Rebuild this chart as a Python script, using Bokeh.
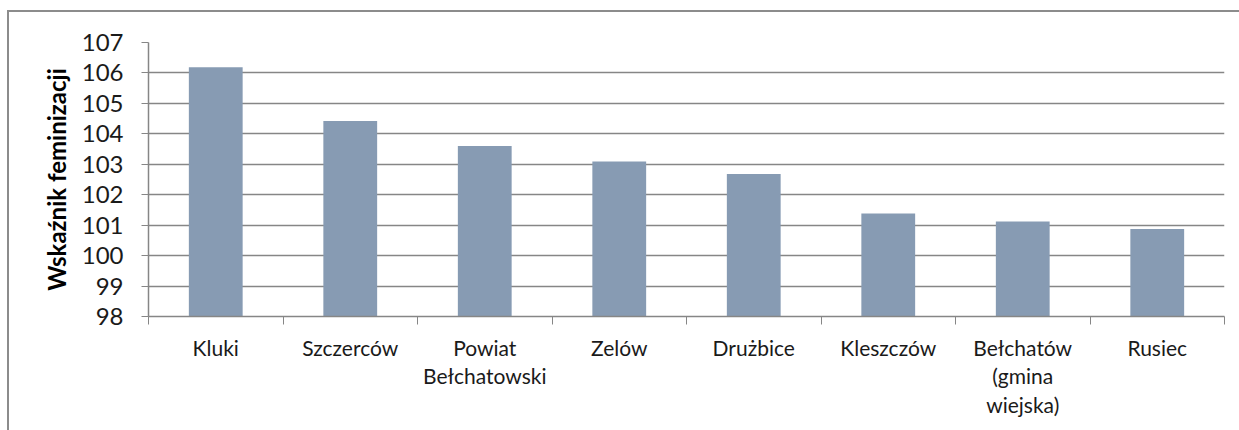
from bokeh.plotting import figure
from bokeh.models import Range1d, FixedTicker, ColumnDataSource
from bokeh.embed import file_html
from bokeh.resources import INLINE

categories = ["Kluki", "Szczerców", "Powiat\nBełchatowski", "Zelów", "Drużbice",
              "Kleszczów", "Bełchatów\n(gmina\nwiejska)", "Rusiec"]
values = [106.19, 104.42, 103.60, 103.09, 102.68, 101.38, 101.12, 100.87]
y_ticks = [98, 99, 100, 101, 102, 103, 104, 105, 106, 107]
y_label = "Wskaźnik feminizacji"

positions = [i + 0.5 for i in range(len(categories))]
boundaries = list(range(len(categories) + 1))

src = ColumnDataSource(dict(x=positions, top=values))

GRAY = "#868686"
FONT = "Lato"

p = figure(width=1239, height=430, output_backend="svg", toolbar_location=None,
           x_range=Range1d(0, len(categories)), y_range=Range1d(y_ticks[0], y_ticks[-1]),
           min_border_left=148, min_border_right=15, min_border_top=42, min_border_bottom=114)
p.outline_line_color = None
p.border_fill_color = None
p.background_fill_color = "white"
p.styles = {
    "background": "linear-gradient(#8c8c8c, #8c8c8c) 7px 10px / 2px 100% no-repeat, "
                  "linear-gradient(#8c8c8c, #8c8c8c) 7px 10px / 100% 2px no-repeat, white"
}

p.vbar(x="x", top="top", bottom=y_ticks[0], width=0.4, source=src,
       fill_color="#879BB3", line_color=None)

# x axis: labels at centres, ticks at category boundaries
xa = p.xaxis[0]
xa.ticker = FixedTicker(ticks=positions, minor_ticks=boundaries)
xa.major_label_overrides = {pos: c for pos, c in zip(positions, categories)}
xa.major_tick_line_color = None
xa.minor_tick_line_color = GRAY
xa.minor_tick_in = 0
xa.minor_tick_out = 8
xa.axis_line_color = GRAY
xa.axis_line_width = 1.5
xa.major_label_text_font = FONT
xa.major_label_text_font_size = "21px"
xa.major_label_text_color = "#1a1a1a"
xa.major_label_text_line_height = 1.15
xa.major_label_standoff = 10

ya = p.yaxis[0]
ya.ticker = FixedTicker(ticks=y_ticks)
ya.minor_tick_line_color = None
ya.major_tick_in = 0
ya.major_tick_out = 7
ya.major_tick_line_color = GRAY
ya.axis_line_color = GRAY
ya.axis_line_width = 1.5
ya.major_label_text_font = FONT
ya.major_label_text_font_size = "24px"
ya.major_label_text_color = "#1a1a1a"
ya.major_label_standoff = 18
ya.axis_label = y_label
ya.axis_label_text_font = FONT
ya.axis_label_text_font_style = "bold"
ya.axis_label_text_font_size = "24px"
ya.axis_label_text_color = "#000000"
ya.axis_label_standoff = 8

p.xgrid.grid_line_color = None
p.ygrid.grid_line_color = GRAY
p.ygrid.grid_line_width = 1.5

open("out.html", "w").write(file_html(p, INLINE))
